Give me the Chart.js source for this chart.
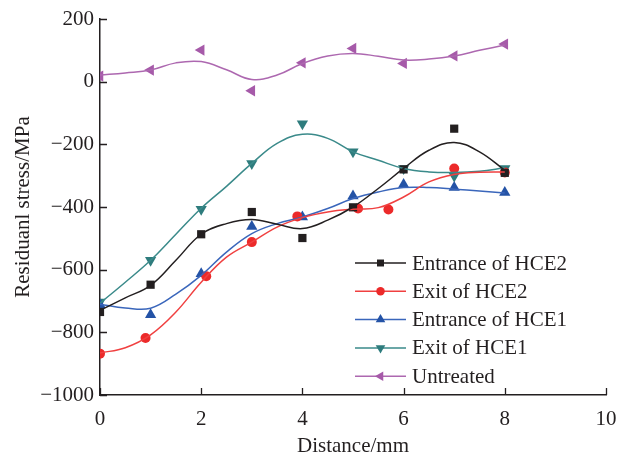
<!DOCTYPE html>
<html>
<head>
<meta charset="utf-8">
<script src="https://cdn.jsdelivr.net/npm/chart.js@4/dist/chart.umd.min.js"></script>
<style>
  html, body { margin: 0; padding: 0; background: #fff; }
  #grafica { display: block; }
</style>
</head>
<body>
<canvas id="grafica" width="630" height="462"></canvas>
<script>
// measured points
const distance = [0, 1, 2, 3, 4, 5, 6, 7, 8];
const exitHCE2X = [0, 0.9, 2.1, 3, 3.9, 5.1, 5.7, 7, 8];

const entranceHCE2 = [-735, -648, -487, -416, -499, -401, -280, -150, -291];
const exitHCE2 = [-868, -818, -621, -512, -430, -405, -408, -277, -290];
const entranceHCE1 = [-712, -744, -613, -462, -432, -365, -328, -338, -354];
const exitHCE1 = [-703, -570, -407, -261, -134, -224, -277, -301, -277];
const untreated = [18, 37, 101, -29, 60, 106, 58, 82, 120];

// fitted curves
const fitX = [0, 0.5, 1, 1.5, 2, 2.5, 3, 3.5, 4, 4.5, 5, 5.5, 6, 6.5, 7, 7.5, 8];
const entranceHCE2Fit = [-730, -690, -650, -570, -487, -453, -440, -455, -469, -442, -400, -341, -277, -219, -194, -224, -283];
const exitHCE2Fit = [-866, -849, -808, -735, -640, -560, -512, -464, -434, -416, -407, -402, -368, -320, -296, -289, -288];
const entranceHCE1Fit = [-710, -722, -723, -678, -618, -544, -485, -453, -432, -405, -373, -352, -338, -338, -343, -349, -355];
const exitHCE1Fit = [-707, -640, -570, -487, -404, -334, -261, -197, -168, -181, -224, -251, -277, -288, -290, -286, -275];
const untreatedFit = [21, 28, 37, 60, 64, 38, 7, 21, 58, 82, 90, 81, 69, 72, 82, 100, 117];

const yTicks = [-1000, -800, -600, -400, -200, 0, 200];
const xTicks = [0, 2, 4, 6, 8, 10];

const series = [
    { label: 'Entrance of HCE2', x: distance, y: entranceHCE2, fit: entranceHCE2Fit, color: '#231f20', line: '#231f20', style: 'rect', radius: 5.8, rotation: 0 },
    { label: 'Exit of HCE2', x: exitHCE2X, y: exitHCE2, fit: exitHCE2Fit, color: '#ec2a2a', line: '#f04040', style: 'circle', radius: 5, rotation: 0 },
    { label: 'Entrance of HCE1', x: distance, y: entranceHCE1, fit: entranceHCE1Fit, color: '#2453a6', line: '#3a66bb', style: 'triangle', radius: 6.5, rotation: 0 },
    { label: 'Exit of HCE1', x: distance, y: exitHCE1, fit: exitHCE1Fit, color: '#2e7c7d', line: '#3a8a8a', style: 'triangle', radius: 6.5, rotation: 180 },
    { label: 'Untreated', x: distance, y: untreated, fit: untreatedFit, color: '#a65aa9', line: '#ad68b0', style: 'triangle', radius: 6.5, rotation: -90 }
];

const FONT = 'Liberation Serif';
const INK = '#231f20';

function pares(xs, ys) {
    return xs.map((x, i) => ({ x: x, y: ys[i] }));
}

const datasets = [];
series.forEach(function (s) {
    datasets.push({
        label: s.label + ' fit',
        data: pares(fitX, s.fit),
        showLine: true,
        borderColor: s.line,
        borderWidth: 1.5,
        pointRadius: 0,
        tension: 0.4,
        fill: false
    });
});
series.forEach(function (s) {
    datasets.push({
        label: s.label,
        data: pares(s.x, s.y),
        showLine: false,
        backgroundColor: s.color,
        borderColor: s.color,
        borderWidth: 0,
        pointStyle: s.style,
        pointRadius: s.radius,
        pointRotation: s.rotation
    });
});

// inward tick marks on both axes
const marcasInternas = {
    id: 'marcasInternas',
    afterDatasetsDraw(chart) {
        const ctx = chart.ctx;
        const area = chart.chartArea;
        ctx.save();
        ctx.strokeStyle = INK;
        ctx.lineWidth = 1.3;
        ctx.beginPath();
        yTicks.forEach(function (v) {
            const py = Math.round(chart.scales.y.getPixelForValue(v)) + 0.5;
            ctx.moveTo(area.left, py);
            ctx.lineTo(area.left + 7, py);
        });
        xTicks.forEach(function (v) {
            const px = Math.round(chart.scales.x.getPixelForValue(v)) + 0.5;
            ctx.moveTo(px, area.bottom);
            ctx.lineTo(px, area.bottom - 7);
        });
        ctx.stroke();
        ctx.restore();
    }
};

// legend drawn inside the plot
const leyenda = {
    id: 'leyenda',
    afterDraw(chart) {
        const ctx = chart.ctx;
        ctx.save();
        ctx.font = '21px "' + FONT + '"';
        ctx.textBaseline = 'middle';
        series.forEach(function (s, i) {
            const y = 263 + i * 28.3;
            ctx.strokeStyle = s.line;
            ctx.lineWidth = 1.5;
            ctx.beginPath();
            ctx.moveTo(355, y);
            ctx.lineTo(406, y);
            ctx.stroke();
            ctx.fillStyle = s.color;
            Chart.helpers.drawPoint(ctx, {
                pointStyle: s.style,
                radius: s.radius * 0.85,
                rotation: s.rotation,
                borderWidth: 0
            }, 380.5, y);
            ctx.fillStyle = INK;
            ctx.fillText(s.label, 412, y + 1);
        });
        ctx.restore();
    }
};

new Chart(document.getElementById('grafica').getContext('2d'), {
    type: 'scatter',
    data: { datasets: datasets },
    plugins: [marcasInternas, leyenda],
    options: {
        responsive: false,
        animation: false,
        layout: { padding: { top: 19, right: 24, bottom: 0, left: 0 } },
        plugins: {
            legend: { display: false },
            tooltip: { enabled: false }
        },
        scales: {
            x: {
                type: 'linear',
                min: 0,
                max: 10,
                afterFit: function (scale) { scale.height = 67; },
                afterBuildTicks: function (scale) { scale.ticks = xTicks.map(v => ({ value: v })); },
                grid: { display: false, drawTicks: false },
                border: { display: true, color: INK, width: 1.5 },
                ticks: {
                    color: INK,
                    font: { family: FONT, size: 21 },
                    padding: 12,
                    maxRotation: 0
                },
                title: {
                    display: true,
                    text: 'Distance/mm',
                    color: INK,
                    font: { family: FONT, size: 21 },
                    padding: { top: 0, bottom: 3 }
                }
            },
            y: {
                type: 'linear',
                min: -1000,
                max: 200,
                afterFit: function (scale) { scale.width = 100; },
                afterBuildTicks: function (scale) { scale.ticks = yTicks.map(v => ({ value: v })); },
                grid: { display: false, drawTicks: false },
                border: { display: true, color: INK, width: 1.5 },
                ticks: {
                    color: INK,
                    font: { family: FONT, size: 21 },
                    padding: 6,
                    callback: function (v) { return String(v).replace('-', '\u2212'); }
                },
                title: {
                    display: true,
                    text: 'Residuanl stress/MPa',
                    color: INK,
                    font: { family: FONT, size: 21 },
                    padding: { top: 11, bottom: 0 }
                }
            }
        }
    }
});
</script>
</body>
</html>
